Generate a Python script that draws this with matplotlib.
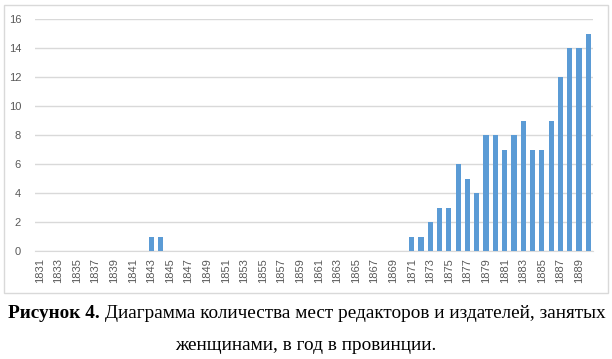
import numpy as np
import matplotlib.pyplot as plt
from matplotlib.patches import Rectangle

# données : années 1831-1890
years = list(range(1831, 1891))
values = [0] * 12 + [1, 1] + [0] * 26 + [1, 1, 2, 3, 3, 6, 5, 4, 8, 8, 7, 8, 9, 7, 7, 9, 12, 14, 14, 15]
tick_years = years[::2]
y_ticks = [0, 2, 4, 6, 8, 10, 12, 14, 16]

caption_bold = "Рисунок 4."
caption_rest = " Диаграмма количества мест редакторов и издателей, занятых"
caption_line2 = "женщинами, в год в провинции."

W, H = 612, 359
fig = plt.figure(figsize=(W / 100, H / 100), dpi=100)
fig.patch.set_facecolor("white")

# cadre du graphique
fig.patches.append(Rectangle((4 / W, 1 - 293 / H), 604 / W, 288 / H, transform=fig.transFigure,
                             fill=False, edgecolor="#d9d9d9", linewidth=1))

ax = fig.add_axes([35 / W, 1 - 251 / H, 558 / W, 232 / H])
x = np.arange(len(years))
ax.bar(x, values, width=0.55, color="#5b9bd5", zorder=3)
ax.set_xlim(-0.5, len(years) - 0.5)
ax.set_ylim(0, 16)
ax.set_yticks(y_ticks)
ax.yaxis.grid(True, color="#d9d9d9", linewidth=1, zorder=0)
for s in ["top", "right", "left"]:
    ax.spines[s].set_visible(False)
ax.spines["bottom"].set_color("#d9d9d9")
ax.set_xticks(x[::2])
ax.set_xticklabels([str(v) for v in tick_years], rotation=90, family="Liberation Sans",
                   fontsize=8, color="#595959")
for lab in ax.get_yticklabels():
    lab.set_family("Liberation Sans")
    lab.set_fontsize(8)
    lab.set_color("#595959")
ax.tick_params(axis="both", length=0, pad=5)
ax.tick_params(axis="y", pad=10)

# légende sous le graphique (gras + normal)
fig.canvas.draw()
r = fig.canvas.get_renderer()
t1 = fig.text(0, 1 - 313 / H, caption_bold, fontsize=13.85, fontweight="bold",
              family="Liberation Serif", va="center")
t2 = fig.text(0, 1 - 313 / H, caption_rest, fontsize=13.85, family="Liberation Serif", va="center")
w1 = t1.get_window_extent(r).width
w2 = t2.get_window_extent(r).width
x0 = (307 - (w1 + w2) / 2) / W
t1.set_x(x0)
t2.set_x(x0 + w1 / W)
fig.text(306 / W, 1 - 346 / H, caption_line2, fontsize=13.85, family="Liberation Serif",
         ha="center", va="center")

fig.savefig("out.png", dpi=100)
